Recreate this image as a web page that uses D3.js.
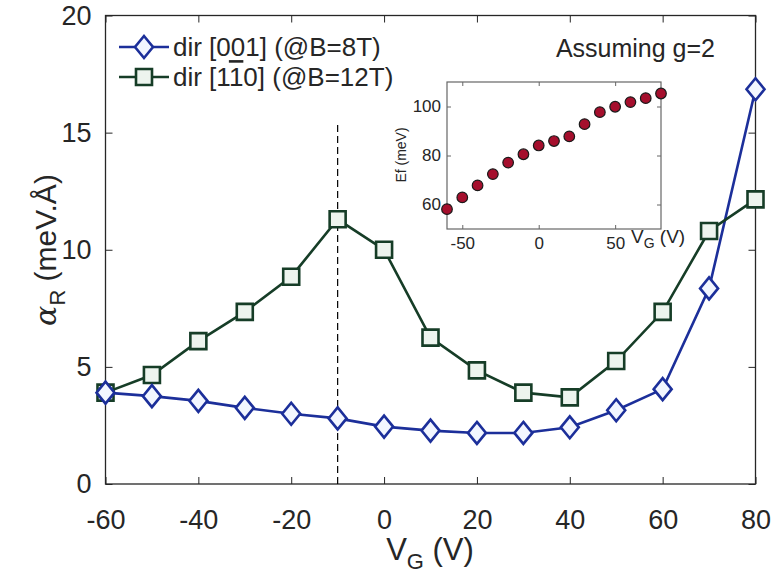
<!DOCTYPE html>
<html><head><meta charset="utf-8">
<script src="https://cdn.jsdelivr.net/npm/d3@7"></script>
<style>
body{margin:0;background:#fff;}
text{font-family:"Liberation Sans",Arial,Helvetica,sans-serif;fill:#262626;}
</style></head><body>
<svg id="c" width="774" height="582"></svg>
<script>
const vg = [-60,-50,-40,-30,-20,-10,0,10,20,30,40,50,60,70,80];
const dir001 = [3.9,3.75,3.55,3.25,3.0,2.8,2.45,2.28,2.18,2.18,2.42,3.15,4.05,8.35,16.85];
const dir110 = [3.9,4.65,6.1,7.35,8.85,11.3,10.0,6.25,4.85,3.9,3.7,5.25,7.35,10.8,12.15];
const efVg = [-60,-50,-40,-30,-20,-10,0,10,20,30,40,50,60,70,80];
const ef = [58.1,62.9,67.8,72.4,77.1,80.5,84.1,85.9,87.8,92.8,97.7,99.9,101.8,103.4,105.3];
const xTicks = [-60,-40,-20,0,20,40,60,80];
const yTicks = [0,5,10,15,20];
const insetXTicks = [-50,0,50];
const insetYTicks = [60,80,100];
const markerLine = {x:-10, y0:0, y1:15.5};

const svg = d3.select("#c");
const L=105.5, R=755.5, T=15.5, B=484;
const x = d3.scaleLinear().domain([-60,80]).range([L,R]);
const y = d3.scaleLinear().domain([0,20]).range([B,T]);
const axisCol="#262626";
const fmt = d=>String(d);

// ticks & box
const g = svg.append("g");
const tl=7;
g.append("g").attr("transform",`translate(0,${B})`)
 .call(d3.axisBottom(x).tickValues(xTicks).tickSizeInner(-tl).tickSizeOuter(0).tickPadding(26).tickFormat(fmt))
 .call(s=>{s.select(".domain").remove();s.selectAll("line").attr("stroke",axisCol);s.selectAll("text").attr("font-size",27).attr("fill",axisCol).attr("font-family","Liberation Sans,Arial").attr("dy","0.71em");});
g.append("g").attr("transform",`translate(0,${T})`)
 .call(d3.axisTop(x).tickValues(xTicks).tickSizeInner(-tl).tickSizeOuter(0).tickFormat(""))
 .call(s=>{s.select(".domain").remove();s.selectAll("line").attr("stroke",axisCol);});
g.append("g").attr("transform",`translate(${L},0)`)
 .call(d3.axisLeft(y).tickValues(yTicks).tickSizeInner(-tl).tickSizeOuter(0).tickPadding(14).tickFormat(fmt))
 .call(s=>{s.select(".domain").remove();s.selectAll("line").attr("stroke",axisCol);s.selectAll("text").attr("font-size",27).attr("fill",axisCol).attr("font-family","Liberation Sans,Arial");});
g.append("g").attr("transform",`translate(${R},0)`)
 .call(d3.axisRight(y).tickValues(yTicks).tickSizeInner(-tl).tickSizeOuter(0).tickFormat(""))
 .call(s=>{s.select(".domain").remove();s.selectAll("line").attr("stroke",axisCol);});
svg.append("rect").attr("x",L).attr("y",T).attr("width",R-L).attr("height",B-T)
 .attr("fill","none").attr("stroke",axisCol).attr("stroke-width",1.3);

// dashed line
svg.append("line").attr("x1",x(markerLine.x)).attr("x2",x(markerLine.x))
 .attr("y1",y(markerLine.y0)).attr("y2",y(markerLine.y1))
 .attr("stroke","#000").attr("stroke-width",1.2).attr("stroke-dasharray","7,4");

const blue="#1c2f9a", blueFill="#f2f6ff";
const green="#163d27", greenFill="#edf4ee";
const line = d3.line().x(d=>x(d[0])).y(d=>y(d[1]));
const d001 = vg.map((v,i)=>[v,dir001[i]]);
const d110 = vg.map((v,i)=>[v,dir110[i]]);
const diamond = (w,h)=>`M0,${-h}L${w},0L0,${h}L${-w},0Z`;
const square = s=>`M${-s},${-s}H${s}V${s}H${-s}Z`;

svg.append("path").datum(d001).attr("d",line).attr("fill","none").attr("stroke",blue).attr("stroke-width",2.6);
svg.append("path").datum(d110).attr("d",line).attr("fill","none").attr("stroke",green).attr("stroke-width",2.6);
svg.selectAll(".sq").data(d110).join("path").attr("class","sq")
 .attr("transform",d=>`translate(${x(d[0])},${y(d[1])})`).attr("d",square(8))
 .attr("fill",greenFill).attr("stroke",green).attr("stroke-width",2.6);
svg.selectAll(".dm").data(d001).join("path").attr("class","dm")
 .attr("transform",d=>`translate(${x(d[0])},${y(d[1])})`).attr("d",diamond(9,11))
 .attr("fill",blueFill).attr("stroke",blue).attr("stroke-width",2.6);

// legend
const leg = [{c:blue,f:blueFill,m:diamond(9,11),y:47,t:"dir [001] (@B=8T)"},
             {c:green,f:greenFill,m:square(8),y:77,t:null}];
leg.forEach(e=>{
  svg.append("line").attr("x1",119).attr("x2",169).attr("y1",e.y).attr("y2",e.y).attr("stroke",e.c).attr("stroke-width",2.6);
  svg.append("path").attr("transform",`translate(144,${e.y})`).attr("d",e.m).attr("fill",e.f).attr("stroke",e.c).attr("stroke-width",2.6);
});
svg.append("text").attr("x",173).attr("y",47).attr("dy","0.35em").attr("font-size",26).text(leg[0].t);
const t2 = svg.append("text").attr("x",173).attr("y",77).attr("dy","0.35em").attr("font-size",26);
t2.append("tspan").text("dir [1");
t2.append("tspan").style("text-decoration","overline").text("1");
t2.append("tspan").text("0] (@B=12T)");

svg.append("text").attr("x",715).attr("y",48).attr("dy","0.35em").attr("text-anchor","end").attr("font-size",25).text("Assuming g=2");

// axis labels
svg.append("text").attr("x",430).attr("y",560).attr("text-anchor","middle").attr("font-size",31)
 .call(t=>{t.append("tspan").text("V");t.append("tspan").attr("font-size",22).attr("dy",9).text("G");t.append("tspan").attr("dy",-9).text(" (V)");});
svg.append("text").attr("transform","translate(56,250) rotate(-90)").attr("text-anchor","middle").attr("font-size",30)
 .call(t=>{t.append("tspan").attr("font-family","DejaVu Serif,serif").attr("font-style","italic").text("α");
  t.append("tspan").attr("font-size",22).attr("dy",9).text("R");
  t.append("tspan").attr("dy",-9).text(" (meV.Å)");});

// inset
const iL=447, iR=661, iT=82, iB=229;
const ix = d3.scaleLinear().domain([-60,80]).range([iL,iR]);
const iy = d3.scaleLinear().domain([50,110]).range([iB,iT]);
const ig = svg.append("g");
ig.append("rect").attr("x",iL).attr("y",iT).attr("width",iR-iL).attr("height",iB-iT).attr("fill","#fff").attr("stroke","#666").attr("stroke-width",1.2);
const itl=4;
ig.append("g").attr("transform",`translate(0,${iB})`)
 .call(d3.axisBottom(ix).tickValues(insetXTicks).tickSizeInner(-itl).tickSizeOuter(0).tickPadding(8).tickFormat(fmt))
 .call(s=>{s.select(".domain").remove();s.selectAll("line").attr("stroke","#666");s.selectAll("text").attr("font-size",17).attr("fill","#333").attr("font-family","Liberation Sans,Arial");});
ig.append("g").attr("transform",`translate(0,${iT})`)
 .call(d3.axisTop(ix).tickValues(insetXTicks).tickSizeInner(-itl).tickSizeOuter(0).tickFormat(""))
 .call(s=>{s.select(".domain").remove();s.selectAll("line").attr("stroke","#666");});
ig.append("g").attr("transform",`translate(${iL},0)`)
 .call(d3.axisLeft(iy).tickValues(insetYTicks).tickSizeInner(-itl).tickSizeOuter(0).tickPadding(6).tickFormat(fmt))
 .call(s=>{s.select(".domain").remove();s.selectAll("line").attr("stroke","#666");s.selectAll("text").attr("font-size",17).attr("fill","#333").attr("font-family","Liberation Sans,Arial");});
ig.append("g").attr("transform",`translate(${iR},0)`)
 .call(d3.axisRight(iy).tickValues(insetYTicks).tickSizeInner(-itl).tickSizeOuter(0).tickFormat(""))
 .call(s=>{s.select(".domain").remove();s.selectAll("line").attr("stroke","#666");});
ig.selectAll("circle").data(efVg.map((v,i)=>[v,ef[i]])).join("circle")
 .attr("cx",d=>ix(d[0])).attr("cy",d=>iy(d[1])).attr("r",5.3)
 .attr("fill","#a50f2d").attr("stroke","#1a1a1a").attr("stroke-width",1.2);
svg.append("text").attr("transform","translate(406,155) rotate(-90)").attr("text-anchor","middle").attr("font-size",14).attr("fill","#333").text("Ef (meV)");
svg.append("text").attr("x",631).attr("y",243).attr("font-size",19).attr("fill","#333")
 .call(t=>{t.append("tspan").text("V");t.append("tspan").attr("font-size",14).attr("dy",5).text("G");t.append("tspan").attr("dy",-5).text(" (V)");});
</script></body></html>
